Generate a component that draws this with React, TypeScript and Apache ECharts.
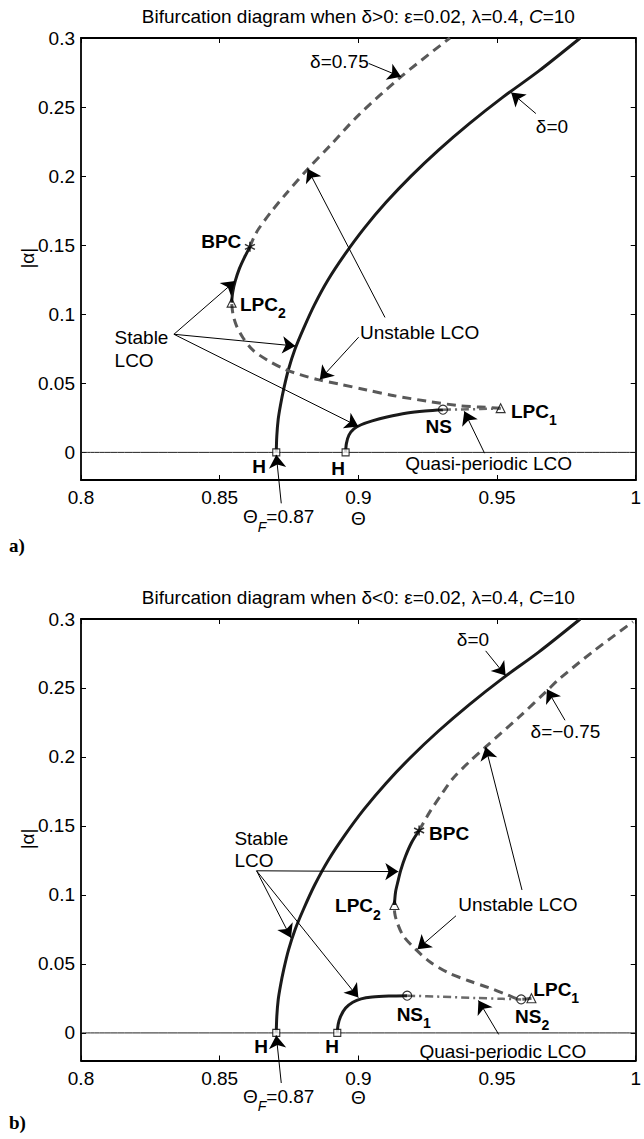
import React, { useEffect, useRef } from "react";
import * as echarts from "echarts";

// ---------- axis ticks ----------
const X_TICKS = [0.8, 0.85, 0.9, 0.95, 1];
const Y_TICKS = [0, 0.05, 0.1, 0.15, 0.2, 0.25, 0.3];

// ---------- δ = 0 branch (identical in both panels) ----------
const DELTA0: number[][] = [
  [0.8704, 0], [0.8706, 0.012], [0.8711, 0.024], [0.8719, 0.034], [0.8731, 0.046],
  [0.8748, 0.06], [0.8772, 0.075], [0.8803, 0.09], [0.8842, 0.107], [0.8891, 0.125],
  [0.895, 0.143], [0.902, 0.162], [0.91, 0.181], [0.919, 0.2], [0.929, 0.219],
  [0.94, 0.238], [0.952, 0.257], [0.965, 0.276], [0.98, 0.3],
];

// ---------- panel a: δ = 0.75 ----------
const A_UNSTABLE_LOW: number[][] = [
  [0.9513, 0.032], [0.944, 0.0328], [0.9367, 0.0337], [0.925, 0.037], [0.913, 0.041],
  [0.903, 0.0452], [0.893, 0.0495], [0.8854, 0.0527], [0.879, 0.0563], [0.8737, 0.06],
  [0.8672, 0.0668], [0.862, 0.074], [0.8584, 0.083], [0.856, 0.092], [0.8548, 0.1],
  [0.8543, 0.1084],
];
const A_STABLE_UPPER: number[][] = [
  [0.8543, 0.1084], [0.8547, 0.116], [0.8556, 0.124], [0.8571, 0.133], [0.8589, 0.141],
  [0.8609, 0.1488],
];
const A_UNSTABLE_HIGH: number[][] = [
  [0.8609, 0.1488], [0.8623, 0.1555], [0.864, 0.1617], [0.8685, 0.174], [0.8734, 0.186],
  [0.8817, 0.205], [0.89, 0.2225], [0.9, 0.244], [0.9154, 0.272], [0.933, 0.3],
];
const A_HOPF2: number[][] = [
  [0.8954, 0], [0.8957, 0.0065], [0.8966, 0.0125], [0.8984, 0.017], [0.901, 0.02],
  [0.905, 0.0228], [0.9103, 0.0256], [0.9176, 0.0285], [0.924, 0.03], [0.9305, 0.0309],
];
const A_QUASI: number[][] = [[0.9305, 0.0309], [0.937, 0.0311], [0.944, 0.0314], [0.9513, 0.0318]];
const A_H: number[][] = [[0.8704, 0], [0.8954, 0]];
const A_NS: number[][] = [[0.9305, 0.0309]];
const A_LPC: number[][] = [[0.9513, 0.032], [0.8543, 0.1084]];
const A_BPC: number[][] = [[0.8609, 0.1488]];

// ---------- panel b: δ = −0.75 ----------
const B_UNSTABLE_LOW: number[][] = [
  [0.9624, 0.0251], [0.9587, 0.0243], [0.953, 0.0282], [0.947, 0.0328], [0.94, 0.0376],
  [0.9323, 0.0437], [0.926, 0.0512], [0.9206, 0.0607], [0.9162, 0.0703], [0.914, 0.08],
  [0.9131, 0.087], [0.913, 0.0927],
];
const B_STABLE_UPPER: number[][] = [
  [0.913, 0.0927], [0.9134, 0.102], [0.9143, 0.11], [0.9153, 0.118], [0.917, 0.128],
  [0.9192, 0.138], [0.9219, 0.1467],
];
const B_UNSTABLE_HIGH: number[][] = [
  [0.9219, 0.1467], [0.9257, 0.16], [0.93, 0.173], [0.934, 0.1842], [0.94, 0.1965],
  [0.9459, 0.2073], [0.958, 0.229], [0.968, 0.248], [0.9721, 0.256], [0.985, 0.277],
  [0.999, 0.298],
];
const B_HOPF2: number[][] = [
  [0.8924, 0], [0.8927, 0.006], [0.8936, 0.012], [0.8954, 0.018], [0.898, 0.0222],
  [0.901, 0.0247], [0.905, 0.026], [0.911, 0.0267], [0.9176, 0.027],
];
const B_QUASI: number[][] = [[0.9176, 0.027], [0.93, 0.0262], [0.9425, 0.0253], [0.952, 0.0247], [0.9587, 0.0243]];
const B_H: number[][] = [[0.8704, 0], [0.8924, 0]];
const B_NS: number[][] = [[0.9176, 0.027], [0.9587, 0.0243]];
const B_LPC: number[][] = [[0.9624, 0.0251], [0.913, 0.0927]];
const B_BPC: number[][] = [[0.9219, 0.1467]];

const ZERO_LINE: number[][] = [[0.8, 0], [1, 0]];

// ---------- styling ----------
const SANS = '"Liberation Sans", Arial, Helvetica, sans-serif';
const SERIF = '"Liberation Serif", "Times New Roman", serif';
const SOLID = "#1a1a1a";
const DASH = "#595959";
const FS = 19;

type Run = { t: string; size?: number; weight?: string; style?: string; dy?: number; family?: string };
type Label = { at: number[]; runs: Run[]; align?: "left" | "center" | "right" };
type Arrow = [number[], number[]];

const sub = (main: string, s: string): Run[] => [
  { t: main, weight: "bold" },
  { t: s, size: 14, weight: "bold", dy: 9 },
];
const bold = (t: string): Run[] => [{ t, weight: "bold" }];
const plain = (t: string): Run[] => [{ t }];
const thetaF: Run[] = [{ t: "Θ" }, { t: "F", size: 14, style: "italic", dy: 10 }, { t: "=0.87" }];

// annotation layout, in (Θ, |α|) units of each panel
const PANELS = [
  {
    title: "Bifurcation diagram when δ>0: ε=0.02, λ=0.4, ",
    tag: "a)",
    tagY: -0.0672,
    curves: { unstableLow: A_UNSTABLE_LOW, stableUpper: A_STABLE_UPPER, unstableHigh: A_UNSTABLE_HIGH, hopf2: A_HOPF2, quasi: A_QUASI },
    markers: { h: A_H, ns: A_NS, lpc: A_LPC, bpc: A_BPC },
    labels: [
      { at: [0.8826, 0.2831], runs: plain("δ=0.75") },
      { at: [0.964, 0.2356], runs: plain("δ=0") },
      { at: [0.9006, 0.0868], runs: plain("Unstable LCO") },
      { at: [0.8121, 0.0832], runs: plain("Stable") },
      { at: [0.8121, 0.0665], runs: plain("LCO") },
      { at: [0.8578, 0.1525], runs: bold("BPC"), align: "right" },
      { at: [0.8573, 0.1072], runs: sub("LPC", "2") },
      { at: [0.9242, 0.0188], runs: bold("NS") },
      { at: [0.955, 0.0297], runs: sub("LPC", "1") },
      { at: [0.8642, -0.0103], runs: bold("H"), align: "center" },
      { at: [0.8927, -0.0115], runs: bold("H"), align: "center" },
      { at: [0.9169, -0.0078], runs: plain("Quasi-periodic LCO") },
      { at: [0.8584, -0.0467], runs: thetaF },
      { at: [0.9, -0.0478], runs: plain("Θ"), align: "center" },
    ] as Label[],
    arrows: [
      [[0.9037, 0.2816], [0.9154, 0.2719]],
      [[0.964, 0.2453], [0.9551, 0.2605]],
      [[0.9096, 0.0977], [0.8817, 0.2053]],
      [[0.9001, 0.0834], [0.8861, 0.0527]],
      [[0.8335, 0.0855], [0.8556, 0.1241]],
      [[0.8335, 0.0855], [0.8773, 0.077]],
      [[0.8335, 0.0855], [0.9, 0.0188]],
      [[0.9455, -0.0006], [0.9382, 0.0297]],
      [[0.8722, -0.0369], [0.8704, -0.0018]],
    ] as Arrow[],
  },
  {
    title: "Bifurcation diagram when δ<0: ε=0.02, λ=0.4, ",
    tag: "b)",
    tagY: -0.0653,
    curves: { unstableLow: B_UNSTABLE_LOW, stableUpper: B_STABLE_UPPER, unstableHigh: B_UNSTABLE_HIGH, hopf2: B_HOPF2, quasi: B_QUASI },
    markers: { h: B_H, ns: B_NS, lpc: B_LPC, bpc: B_BPC },
    labels: [
      { at: [0.9355, 0.2849], runs: plain("δ=0") },
      { at: [0.9621, 0.2182], runs: plain("δ=−0.75") },
      { at: [0.936, 0.0934], runs: plain("Unstable LCO") },
      { at: [0.8553, 0.1406], runs: plain("Stable") },
      { at: [0.8553, 0.1246], runs: plain("LCO") },
      { at: [0.9255, 0.1443], runs: bold("BPC") },
      { at: [0.8916, 0.0922], runs: sub("LPC", "2") },
      { at: [0.9138, 0.0134], runs: sub("NS", "1") },
      { at: [0.9565, 0.0122], runs: sub("NS", "2") },
      { at: [0.9631, 0.0316], runs: sub("LPC", "1") },
      { at: [0.8649, -0.0096], runs: bold("H"), align: "center" },
      { at: [0.8905, -0.0096], runs: bold("H"), align: "center" },
      { at: [0.922, -0.0132], runs: plain("Quasi-periodic LCO") },
      { at: [0.8584, -0.0459], runs: thetaF },
      { at: [0.9, -0.0471], runs: plain("Θ"), align: "center" },
    ] as Label[],
    arrows: [
      [[0.9459, 0.2769], [0.9531, 0.259]],
      [[0.9745, 0.2266], [0.968, 0.249]],
      [[0.959, 0.1036], [0.9459, 0.2073]],
      [[0.9352, 0.0849], [0.9213, 0.0607]],
      [[0.8633, 0.1175], [0.9144, 0.1169]],
      [[0.8633, 0.1175], [0.8757, 0.069]],
      [[0.8633, 0.1175], [0.9, 0.0256]],
      [[0.9506, -0.0011], [0.9433, 0.0235]],
      [[0.8722, -0.0363], [0.8704, -0.0018]],
    ] as Arrow[],
  },
];

const GRIDS = [
  { left: 81, top: 38, width: 560.5, height: 442 },
  { left: 81, top: 619, width: 560.5, height: 441.5 },
];

const ASTERISK = "path://M0,-10L0,10M-8.66,-5L8.66,5M-8.66,5L8.66,-5";

function buildOption() {
  const axisLine = { onZero: false, lineStyle: { color: "#000", width: 1.8 } };
  const tick = { inside: true, length: 5, lineStyle: { color: "#000", width: 1 } };
  const xAxis: any[] = [];
  const yAxis: any[] = [];
  GRIDS.forEach((_, g) => {
    const xBase = { type: "value", gridIndex: g, min: X_TICKS[0], max: X_TICKS[X_TICKS.length - 1], interval: 0.05, axisLine, splitLine: { show: false } };
    xAxis.push({ ...xBase, position: "bottom", axisTick: tick, axisLabel: { margin: 8, color: "#000", fontSize: FS, fontFamily: SANS } });
    xAxis.push({ ...xBase, position: "top", axisTick: tick, axisLabel: { show: false } });
    const yBase = { type: "value", gridIndex: g, min: -0.02, max: 0.3, axisLine, splitLine: { show: false } };
    yAxis.push({ ...yBase, position: "left", axisTick: { ...tick, customValues: Y_TICKS }, axisLabel: { customValues: Y_TICKS, margin: 6, color: "#000", fontSize: FS, fontFamily: SANS } });
    yAxis.push({ ...yBase, position: "right", axisTick: { ...tick, customValues: Y_TICKS }, axisLabel: { show: false } });
  });

  const series: any[] = [];
  PANELS.forEach((p, g) => {
    const ax = { xAxisIndex: 2 * g, yAxisIndex: 2 * g };
    const line = (data: number[][], color: string, width: number, type: any, z = 2) => ({
      type: "line", ...ax, data, showSymbol: false, symbol: "none", smooth: 0.3, z,
      lineStyle: { color, width, type }, silent: true,
    });
    series.push(line(ZERO_LINE, "#222", 1, "solid", 1));
    series.push(line(DELTA0, SOLID, 3, "solid"));
    series.push(line(p.curves.unstableLow, DASH, 3, [9, 6]));
    series.push(line(p.curves.stableUpper, SOLID, 3, "solid"));
    series.push(line(p.curves.unstableHigh, DASH, 3, [9, 6]));
    series.push(line(p.curves.hopf2, SOLID, 3, "solid"));
    series.push(line(p.curves.quasi, "#6a6a6a", 2.5, [8, 4, 2, 4]));
    const marker = (data: number[][], symbol: string, size: number, fill: string, bw = 1.1) => ({
      type: "scatter", ...ax, data, symbol, symbolSize: size, z: 3, silent: true,
      itemStyle: { color: fill, borderColor: "#000", borderWidth: bw },
    });
    series.push(marker(p.markers.h, "rect", 7, "#fff"));
    series.push(marker(p.markers.ns, "circle", 9, "rgba(255,255,255,0)"));
    series.push(marker(p.markers.lpc, "triangle", 9, "rgba(255,255,255,0)"));
    series.push(marker(p.markers.bpc, ASTERISK, 10, "rgba(0,0,0,0)", 1.5));
    series.push({
      type: "lines", coordinateSystem: "cartesian2d", ...ax, z: 4, silent: true, clip: false,
      data: p.arrows.map(([a, b]) => ({ coords: [a, b] })),
      lineStyle: { color: "#000", width: 1, opacity: 1, curveness: 0 },
      symbol: ["none", "arrow"], symbolSize: 13,
    });
  });

  return {
    animation: false,
    backgroundColor: "#fff",
    grid: GRIDS.map((g) => ({ ...g, containLabel: false })),
    xAxis,
    yAxis,
    series,
  };
}

function buildGraphics(chart: any) {
  const ctx = document.createElement("canvas").getContext("2d")!;
  const fontOf = (r: Run) => `${r.style ?? "normal"} ${r.weight ?? "normal"} ${r.size ?? FS}px ${r.family ?? SANS}`;
  const els: any[] = [];
  const place = (runs: Run[], x: number, y: number, align = "left", rotation = 0) => {
    const widths = runs.map((r) => {
      ctx.font = fontOf(r);
      return ctx.measureText(r.t).width;
    });
    const total = widths.reduce((a, b) => a + b, 0);
    if (rotation) {
      const r = runs[0];
      els.push({
        type: "text", x, y, rotation, silent: true, z: 50,
        style: { text: r.t, fill: "#000", font: fontOf(r), align: "center", verticalAlign: "middle", textAlign: "center", textVerticalAlign: "middle" },
      });
      return;
    }
    let cx = align === "center" ? x - total / 2 : align === "right" ? x - total : x;
    runs.forEach((r, i) => {
      els.push({
        type: "text", x: cx, y: y + (r.dy ?? 0), silent: true, z: 50,
        style: { text: r.t, fill: "#000", font: fontOf(r), align: "left", verticalAlign: "middle", textAlign: "left", textVerticalAlign: "middle" },
      });
      cx += widths[i];
    });
  };

  PANELS.forEach((p, g) => {
    const px = (pt: number[]) => chart.convertToPixel({ gridIndex: g }, pt) as number[];
    const t = px([0.9, 0.3158]);
    place([{ t: p.title }, { t: "C", style: "italic" }, { t: "=10" }], t[0], t[1], "center");
    const tag = px([0.774, p.tagY]);
    place([{ t: p.tag, weight: "bold", family: SERIF }], tag[0], tag[1]);
    const yl = px([0.7807, 0.1406]);
    place([{ t: "|α|" }], yl[0], yl[1], "center", Math.PI / 2);
    p.labels.forEach((l) => {
      const q = px(l.at);
      place(l.runs, q[0], q[1], l.align ?? "left");
    });
  });
  return { elements: els };
}

export default function App() {
  const ref = useRef<HTMLDivElement>(null);
  useEffect(() => {
    if (!ref.current) return;
    const chart = echarts.init(ref.current, null, { renderer: "svg" });
    chart.setOption(buildOption());
    chart.setOption({ graphic: buildGraphics(chart) });
    return () => chart.dispose();
  }, []);
  return (
    <div
      ref={ref}
      style={{ position: "absolute", left: 0, top: 0, width: 644, height: 1139, background: "#fff" }}
    />
  );
}
